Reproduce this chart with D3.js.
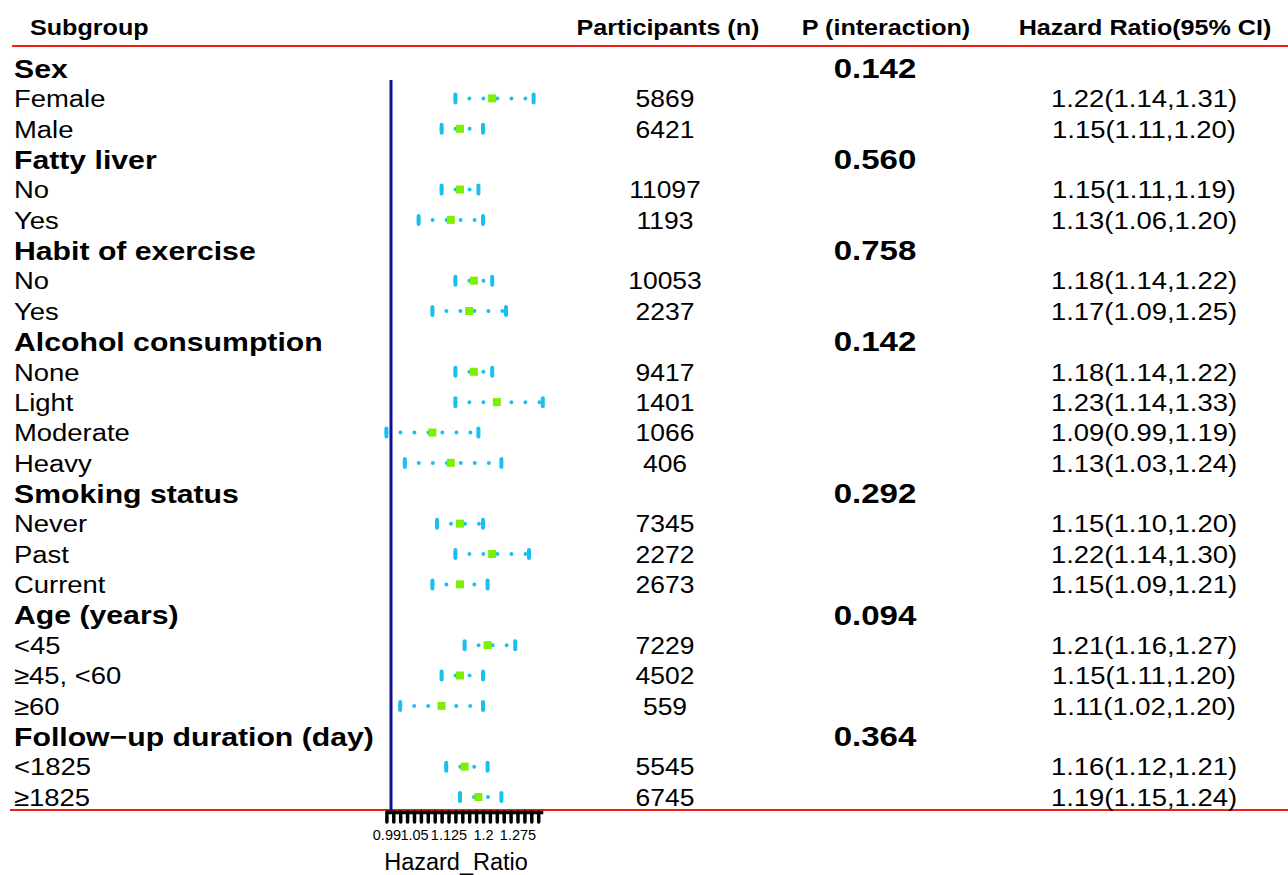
<!DOCTYPE html>
<html>
<head>
<meta charset="utf-8">
<script src="https://cdn.jsdelivr.net/npm/d3@7"></script>
<style>
  body { margin: 0; background: #fff; }
  text { font-family: "Liberation Sans", Arial, sans-serif; fill: #000; }
</style>
</head>
<body>
<div id="chart"></div>
<script>
// rows of the forest plot, top to bottom
var labels = ["Sex", "Female", "Male", "Fatty liver", "No", "Yes", "Habit of exercise", "No", "Yes",
  "Alcohol consumption", "None", "Light", "Moderate", "Heavy", "Smoking status", "Never", "Past", "Current",
  "Age (years)", "<45", "\u226545, <60", "\u226560", "Follow\u2212up duration (day)", "<1825", "\u22651825"];
var isGroup = [1,0,0,1,0,0,1,0,0,1,0,0,0,0,1,0,0,0,1,0,0,0,1,0,0];
var participants = [null, 5869, 6421, null, 11097, 1193, null, 10053, 2237, null, 9417, 1401, 1066, 406,
  null, 7345, 2272, 2673, null, 7229, 4502, 559, null, 5545, 6745];
var pInteraction = ["0.142", "", "", "0.560", "", "", "0.758", "", "", "0.142", "", "", "", "",
  "0.292", "", "", "", "0.094", "", "", "", "0.364", "", ""];
var hr    = [null, 1.22, 1.15, null, 1.15, 1.13, null, 1.18, 1.17, null, 1.18, 1.23, 1.09, 1.13, null, 1.15, 1.22, 1.15, null, 1.21, 1.15, 1.11, null, 1.16, 1.19];
var lower = [null, 1.14, 1.11, null, 1.11, 1.06, null, 1.14, 1.09, null, 1.14, 1.14, 0.99, 1.03, null, 1.10, 1.14, 1.09, null, 1.16, 1.11, 1.02, null, 1.12, 1.15];
var upper = [null, 1.31, 1.20, null, 1.19, 1.20, null, 1.22, 1.25, null, 1.22, 1.33, 1.19, 1.24, null, 1.20, 1.30, 1.21, null, 1.27, 1.20, 1.20, null, 1.21, 1.24];
var tickLabels = [0.99, 1.05, 1.125, 1.2, 1.275];

var width = 1288, height = 875;

var svg = d3.select('#chart').append('svg')
  .attr('width', width).attr('height', height);

// 460 px per HR unit, HR = 1 at x = 391
var x = d3.scaleLinear().domain([0.99, 1.33]).range([386.4, 542.8]);
var y = d3.scaleLinear().domain([0, labels.length - 1]).range([68, 797]);

// text in the picture is a bit stretched horizontally, hence the scale
function txt(s, px, py, size, bold, anchor, sx) {
  return svg.append('text')
    .attr('transform', 'translate(' + px + ',' + py + ') scale(' + sx + ',1)')
    .attr('dy', '0.36em')
    .attr('text-anchor', anchor || 'start')
    .style('font-size', size + 'px')
    .style('font-weight', bold ? 'bold' : 'normal')
    .text(s);
}

// header
txt('Subgroup', 30, 27, 21.5, true, 'start', 1.17);
txt('Participants (n)', 668, 27, 21.5, true, 'middle', 1.17);
txt('P (interaction)', 886, 27, 21.5, true, 'middle', 1.17);
txt('Hazard Ratio(95% CI)', 1145, 27, 21.5, true, 'middle', 1.17);

svg.append('line').attr('x1', 12).attr('x2', width).attr('y1', 46).attr('y2', 46)
  .attr('stroke', '#f01e14').attr('stroke-width', 2);
svg.append('line').attr('x1', 10).attr('x2', width).attr('y1', 810).attr('y2', 810)
  .attr('stroke', '#f01e14').attr('stroke-width', 2);

// row texts
labels.forEach(function(d, i) {
  if (isGroup[i]) txt(d, 14, y(i), 26.5, true, 'start', 1.14);
  else txt(d, 14, y(i), 24.5, false, 'start', 1.12);
  if (participants[i] != null) txt(participants[i], 665, y(i), 24.5, false, 'middle', 1.08);
  if (pInteraction[i]) txt(pInteraction[i], 875, y(i), 28, true, 'middle', 1.18);
  if (hr[i] != null) {
    txt(hr[i].toFixed(2) + '(' + lower[i].toFixed(2) + ',' + upper[i].toFixed(2) + ')', 1144, y(i), 24.5, false, 'middle', 1.12);
  }
});

// reference line at HR = 1
svg.append('line').attr('x1', x(1)).attr('x2', x(1)).attr('y1', 80).attr('y2', 812)
  .attr('stroke', '#10108f').attr('stroke-width', 3);

// axis
var ticks = d3.range(0, 23).map(function(k) { return +(0.99 + k * 0.015).toFixed(3); });
var axis = d3.axisBottom(x).tickValues(ticks).tickSize(10).tickSizeOuter(0)
  .tickFormat(function(d) { return tickLabels.indexOf(d) >= 0 ? d : ''; });
var gAxis = svg.append('g').attr('transform', 'translate(0,812)').call(axis);
gAxis.select('.domain').attr('stroke', '#000').attr('stroke-width', 3.5);
gAxis.selectAll('.tick line').attr('stroke', '#000').attr('stroke-width', 3.5)
  .attr('stroke-linecap', 'round');
gAxis.selectAll('.tick text').style('font-size', '14.5px').attr('y', 18)
  .style('font-family', '"Liberation Sans", Arial, sans-serif');
svg.append('text').attr('x', 456).attr('y', 862).attr('dy', '0.36em')
  .attr('text-anchor', 'middle').style('font-size', '23.5px').text('Hazard_Ratio');

// CI marks
var rows = d3.range(labels.length).filter(function(i) { return hr[i] != null; });
var ci = svg.append('g');
ci.selectAll('line.dots').data(rows).enter().append('line')
  .attr('x1', function(i) { return x(lower[i]); })
  .attr('x2', function(i) { return x(upper[i]); })
  .attr('y1', function(i) { return y(i); })
  .attr('y2', function(i) { return y(i); })
  .attr('stroke', '#19c0ee').attr('stroke-width', 4)
  .attr('stroke-linecap', 'round').attr('stroke-dasharray', '0,14');
[lower, upper].forEach(function(arr) {
  ci.selectAll(null).data(rows).enter().append('rect')
    .attr('x', function(i) { return x(arr[i]) - 2; })
    .attr('y', function(i) { return y(i) - 6; })
    .attr('width', 4).attr('height', 12).attr('rx', 2)
    .attr('fill', '#19c0ee');
});
ci.selectAll('rect.pt').data(rows).enter().append('rect')
  .attr('x', function(i) { return x(hr[i]) - 4; })
  .attr('y', function(i) { return y(i) - 4; })
  .attr('width', 8).attr('height', 8)
  .attr('fill', '#7cf000');
</script>
</body>
</html>
